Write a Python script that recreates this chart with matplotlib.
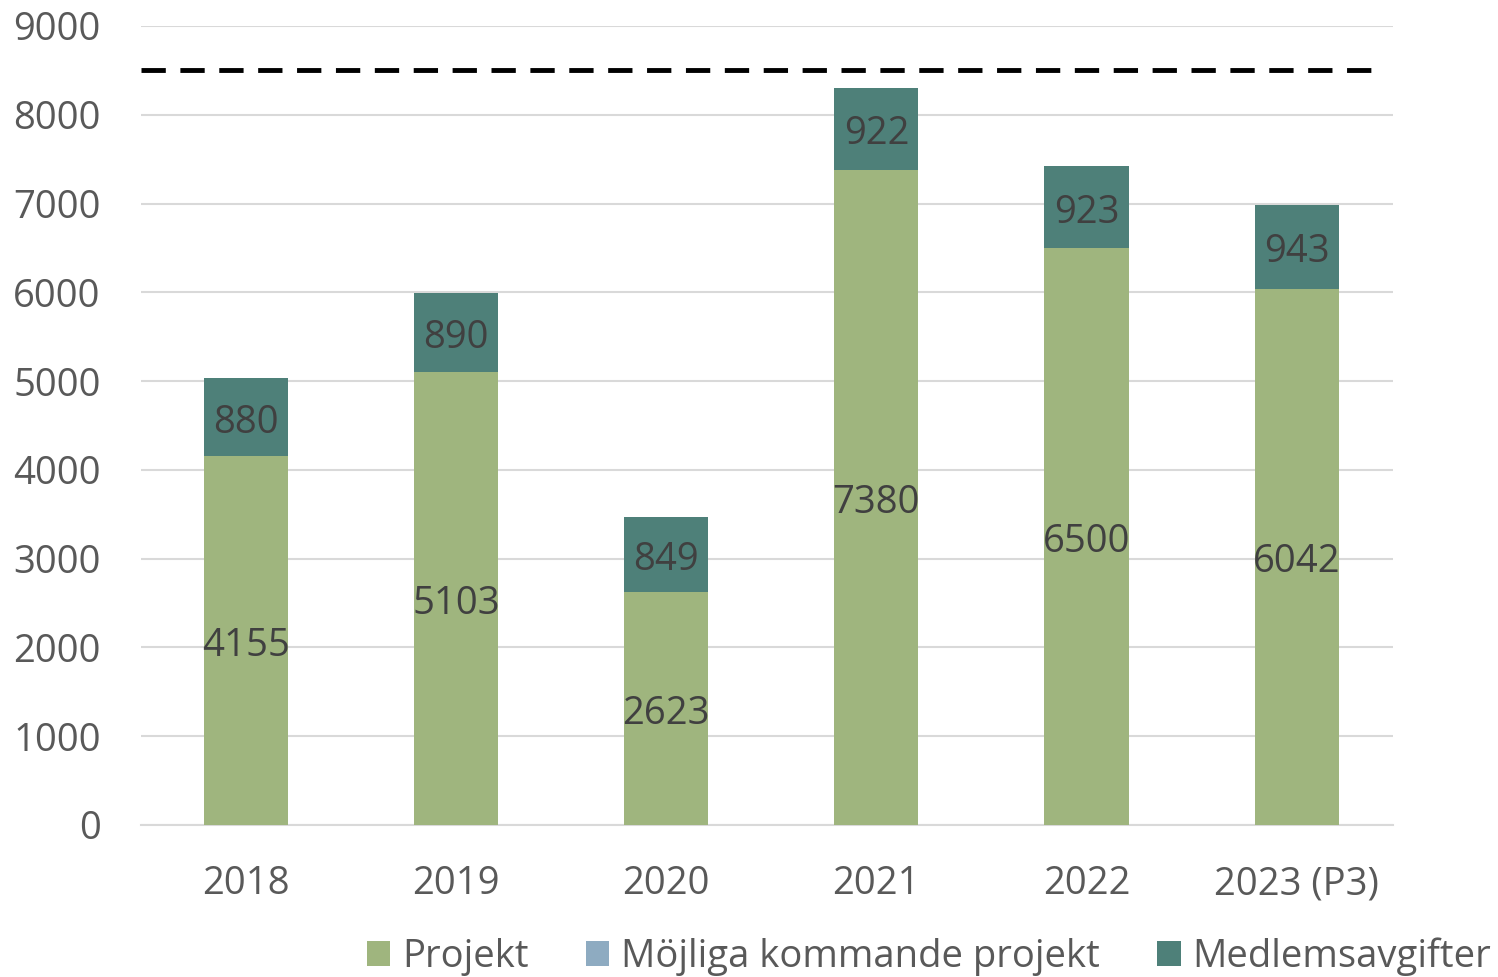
import numpy as np
import matplotlib.pyplot as plt

# data
years = ['2018', '2019', '2020', '2021', '2022', '2023 (P3)']
projekt = [4155, 5103, 2623, 7380, 6500, 6042]
mojliga = [0, 0, 0, 0, 0, 0]
medlem = [880, 890, 849, 922, 923, 943]
target = 8500

plt.rcParams['font.family'] = ['Open Sans', 'DejaVu Sans']

c_proj = '#9fb57e'
c_moj = '#8eabc1'
c_med = '#4e8079'
fs = 27.5

fig = plt.figure(figsize=(14.98, 9.77), dpi=100, facecolor='white')
ax = fig.add_axes([0.0941, 0.1556, 0.836, 0.8178])

x = np.arange(len(years))
w = 0.4
b1 = ax.bar(x, projekt, w, color=c_proj, label='Projekt', zorder=3)
b2 = ax.bar(x, mojliga, w, bottom=projekt, color=c_moj,
            label='Möjliga kommande projekt', zorder=3)
bot = np.array(projekt) + np.array(mojliga)
b3 = ax.bar(x, medlem, w, bottom=bot, color=c_med, label='Medlemsavgifter', zorder=3)

for i in range(len(years)):
    ax.annotate(str(projekt[i]), (x[i], projekt[i] / 2), xytext=(0, -4),
                textcoords='offset points', ha='center', va='center',
                fontsize=fs, color='#404040', zorder=4)
    ax.annotate(str(medlem[i]), (x[i], bot[i] + medlem[i] / 2), xytext=(0, -4),
                textcoords='offset points', ha='center', va='center',
                fontsize=fs, color='#404040', zorder=4)

ax.plot([-0.5, 5.4], [target, target], color='black', lw=3.5,
        dashes=(5, 3), zorder=4)

ax.set_ylim(0, 9000)
ax.set_xlim(-0.5, 5.46)
ax.set_yticks(np.arange(0, 9001, 1000))
ax.yaxis.grid(True, color='#d9d9d9', lw=1.5, zorder=0)
ax.set_xticks(x)
ax.set_xticklabels(years)
ax.tick_params(axis='both', length=0, labelsize=fs, labelcolor='#595959')
ax.tick_params(axis='y', pad=29)
ax.tick_params(axis='x', pad=29)
for s in ['top', 'right', 'left']:
    ax.spines[s].set_visible(False)
ax.spines['bottom'].set_color('#d9d9d9')
ax.spines['bottom'].set_linewidth(1.5)

leg = fig.legend(handles=[b1, b2, b3], loc='lower center', bbox_to_anchor=(0.62, -0.034),
                 ncol=3, frameon=False, fontsize=fs, handlelength=0.62,
                 handleheight=0.62, handletextpad=0.3, columnspacing=1.5)
for t in leg.get_texts():
    t.set_color('#595959')

fig.savefig('out.png', dpi=100, facecolor='white')
